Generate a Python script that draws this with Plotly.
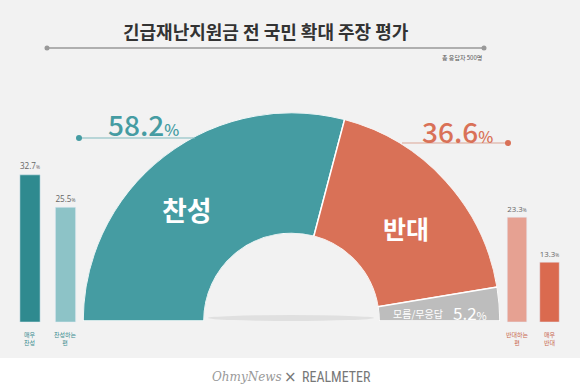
import plotly.graph_objects as go

# ---- data ----
main_labels = ["찬성", "반대", "모름/무응답"]
main_values = [58.2, 36.6, 5.2]
main_colors = ["#459ca2", "#d97157", "#bdbdbd"]

left_cats = ["매우<br>찬성", "찬성하는<br>편"]
left_vals = [32.7, 25.5]
left_colors = ["#2f8a8f", "#8dc3c7"]

right_cats = ["반대하는<br>편", "매우<br>반대"]
right_vals = [23.3, 13.3]
right_colors = ["#e6a192", "#da6a4f"]

title = "긴급재난지원금 전 국민 확대 주장 평가"
subtitle = "총 응답자 500명"

W, H = 580, 392
fig = go.Figure()

# ---- semicircle donut via barpolar ----
cum = 0
thetas, widths = [], []
for v in main_values:
    w = v * 1.8
    thetas.append(cum + w / 2)
    widths.append(w)
    cum += w
fig.add_trace(go.Barpolar(
    r=[1] * len(main_values), theta=thetas, width=widths,
    marker=dict(color=main_colors, line=dict(color="white", width=1.5)),
    subplot="polar", showlegend=False, hoverinfo="skip"))

cx0, cx1 = 83 / W, 500 / W
R = (500 - 83) / 2
cy_px = 321
fig.update_layout(polar=dict(
    domain=dict(x=[cx0, cx1], y=[(H - cy_px) / H, (H - cy_px + R) / H]),
    sector=[0, 180], hole=0.42, bgcolor="rgba(0,0,0,0)",
    angularaxis=dict(rotation=180, direction="clockwise", visible=False,
                     showgrid=False, showline=False, showticklabels=False, ticks=""),
    radialaxis=dict(range=[0, 1], visible=False, showgrid=False),
))

# ---- side bars ----
ymin = -(H - 322) / 4.5
ymax = 322 / 4.5
pct = "%{y}<span style='font-size:6px'>%</span>"
fig.add_trace(go.Bar(x=left_cats, y=left_vals, marker_color=left_colors, width=0.57,
                     text=left_vals, texttemplate=pct, textposition="outside",
                     textfont=dict(size=10, color="#666", family="Open Sans"),
                     cliponaxis=False, xaxis="x", yaxis="y", showlegend=False))
fig.add_trace(go.Bar(x=right_cats, y=right_vals, marker_color=right_colors, width=0.6,
                     text=right_vals, texttemplate=pct, textposition="outside",
                     textfont=dict(size=10, color="#666", family="Open Sans"),
                     cliponaxis=False, xaxis="x2", yaxis="y", showlegend=False))

ax_common = dict(visible=False, fixedrange=True)
fig.update_layout(
    xaxis=dict(domain=[12.25 / W, 83.25 / W], range=[-0.5, 1.5], **ax_common),
    xaxis2=dict(domain=[500.75 / W, 565.75 / W], range=[-0.5, 1.5], **ax_common),
    yaxis=dict(domain=[0, 1], range=[ymin, ymax], **ax_common),
)

annotations = []
for i, c in enumerate(left_cats):
    annotations.append(dict(x=i, y=0, xref="x", yref="y", text=c, showarrow=False,
                            yanchor="top", yshift=-6, font=dict(size=6, color="#3a8c90")))
for i, c in enumerate(right_cats):
    annotations.append(dict(x=i, y=0, xref="x2", yref="y", text=c, showarrow=False,
                            yanchor="top", yshift=-6, font=dict(size=6, color="#c9684f")))

def px(x, y, **kw):
    d = dict(x=x / W, y=1 - y / H, xref="paper", yref="paper", showarrow=False,
             yanchor="middle", xanchor="center")
    d.update(kw)
    return d

kfont = "Noto Sans CJK KR"
annotations += [
    px(266, 31, text="<b>" + title + "</b>", font=dict(size=18, color="#333", family=kfont)),
    px(484, 57, text=subtitle, xanchor="right", font=dict(size=6, color="#555", family=kfont)),
    px(106, 124, text=f"{main_values[0]}<span style='font-size:16px'>%</span>", xanchor="left",
       font=dict(size=28, color="#459ca2", family=kfont, weight=500)),
    px(420, 131, text=f"{main_values[1]}<span style='font-size:16px'>%</span>", xanchor="left",
       font=dict(size=28, color="#d97157", family=kfont, weight=500)),
    px(187, 209, text="<b>" + main_labels[0] + "</b>", font=dict(size=27, color="white", family=kfont)),
    px(406, 228, text="<b>" + main_labels[1] + "</b>", font=dict(size=25, color="white", family=kfont)),
    px(418, 313, text=main_labels[2], font=dict(size=10, color="white", family=kfont)),
    px(470, 312, text=f"{main_values[2]}<span style='font-size:11px'>%</span>",
       font=dict(size=17, color="white", family=kfont)),
    px(210, 377, text="<i>OhmyNews</i>", xanchor="left",
       font=dict(size=12, color="#999", family="DejaVu Serif")),
    px(290, 377, text="×", font=dict(size=15, color="#777", family="DejaVu Sans")),
    px(300, 377, text="REALMETER", xanchor="left",
       font=dict(size=14, color="#777", family="Liberation Sans Narrow, Roboto Condensed, Roboto")),
]

shapes = [
    dict(type="rect", xref="paper", yref="paper", x0=0, x1=1, y0=1 - 358 / H, y1=1,
         fillcolor="#f2f2f2", line=dict(width=0), layer="below"),
    dict(type="line", xref="paper", yref="paper", x0=47 / W, x1=484 / W,
         y0=1 - 48 / H, y1=1 - 48 / H, line=dict(color="#999", width=1.5)),
    dict(type="circle", xref="paper", yref="paper", x0=44.5 / W, x1=49.5 / W,
         y0=1 - 50.5 / H, y1=1 - 45.5 / H, fillcolor="#999", line=dict(width=0)),
    dict(type="circle", xref="paper", yref="paper", x0=481.5 / W, x1=486.5 / W,
         y0=1 - 50.5 / H, y1=1 - 45.5 / H, fillcolor="#999", line=dict(width=0)),
    # leader lines
    dict(type="line", xref="paper", yref="paper", x0=79 / W, x1=195 / W,
         y0=1 - 138 / H, y1=1 - 138 / H, line=dict(color="#7fb9bd", width=1)),
    dict(type="circle", xref="paper", yref="paper", x0=76 / W, x1=82 / W,
         y0=1 - 141 / H, y1=1 - 135 / H, fillcolor="#459ca2", line=dict(width=0)),
    dict(type="line", xref="paper", yref="paper", x0=402 / W, x1=508 / W,
         y0=1 - 143 / H, y1=1 - 143 / H, line=dict(color="#dba595", width=1)),
    dict(type="circle", xref="paper", yref="paper", x0=505 / W, x1=511 / W,
         y0=1 - 146 / H, y1=1 - 140 / H, fillcolor="#d97157", line=dict(width=0)),
    # subtle shadow under the hole
    dict(type="circle", xref="paper", yref="paper", x0=208 / W, x1=374 / W,
         y0=1 - 321 / H, y1=1 - 315 / H, fillcolor="rgba(0,0,0,0.07)", line=dict(width=0),
         layer="below"),
]

fig.update_layout(width=W, height=H, margin=dict(l=0, r=0, t=0, b=0),
                  paper_bgcolor="white", plot_bgcolor="rgba(0,0,0,0)",
                  annotations=annotations, shapes=shapes, showlegend=False,
                  font=dict(family=kfont))
fig.write_html("out.html", config={"displayModeBar": False},
               post_script="document.body.style.margin='0';document.body.style.overflow='hidden';")
